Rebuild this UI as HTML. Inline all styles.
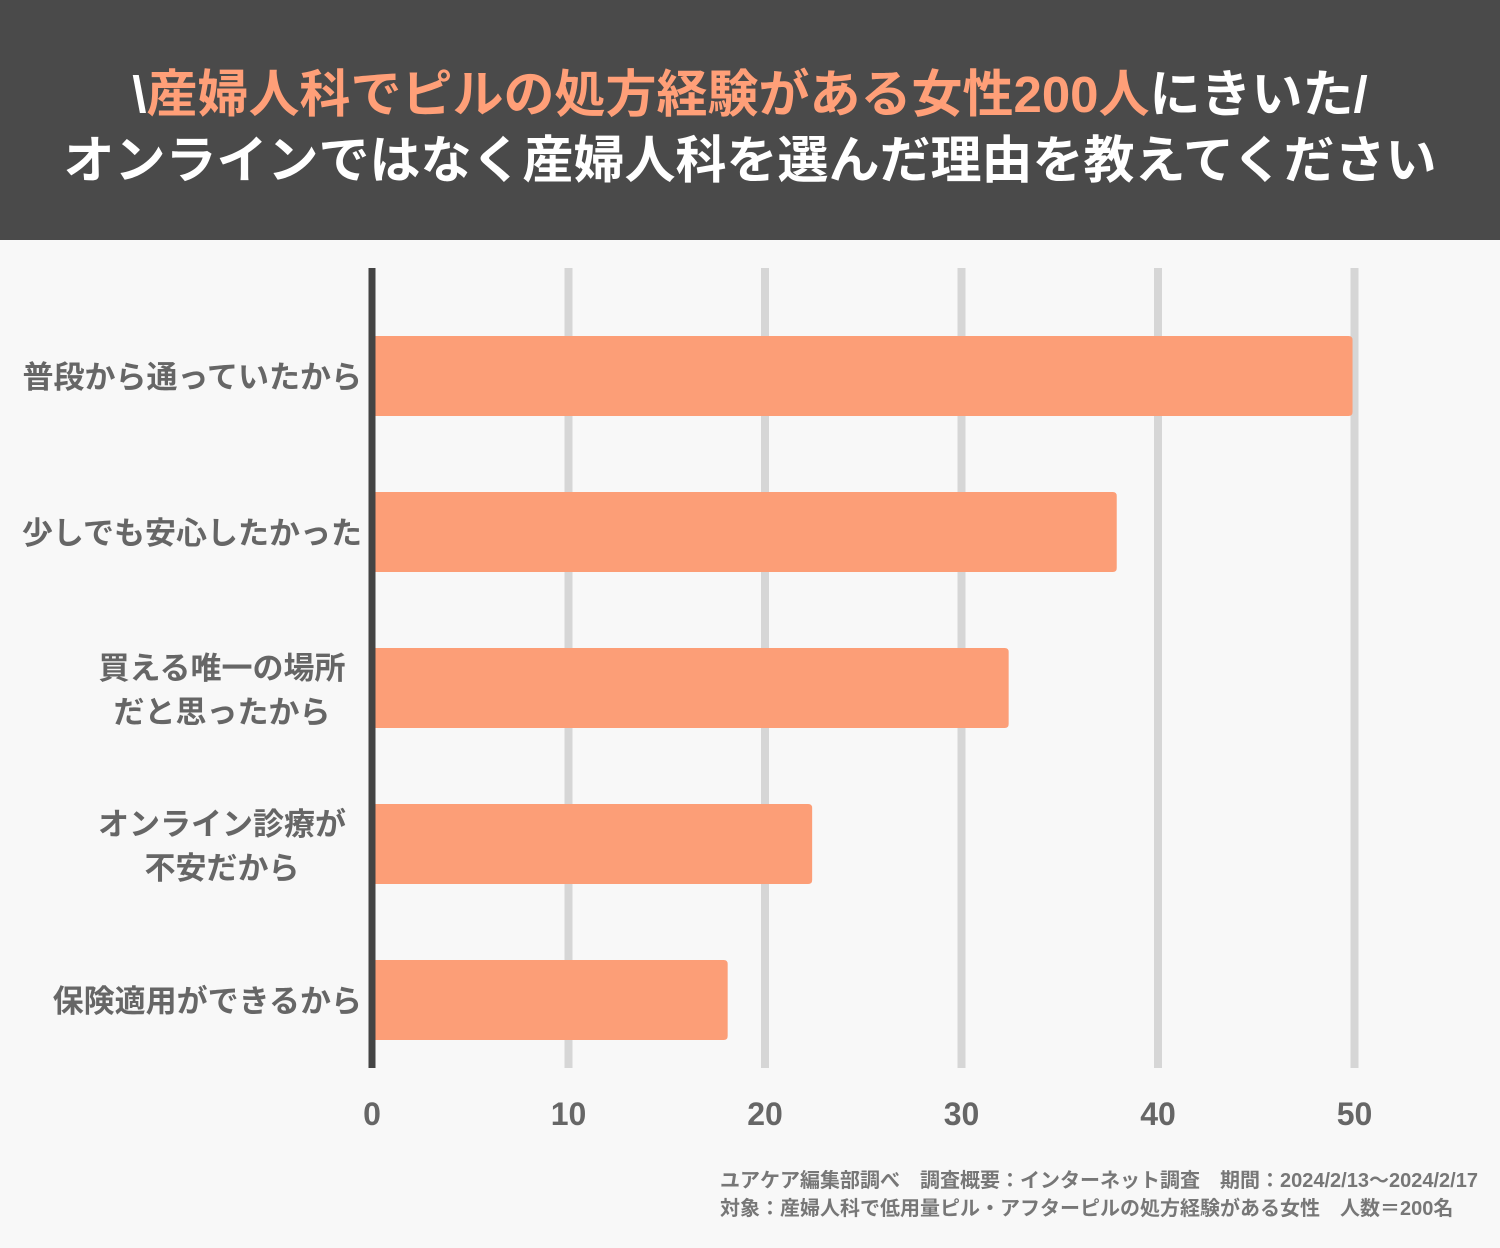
<!DOCTYPE html>
<html><head><meta charset="utf-8">
<style>
body{margin:0;width:1500px;height:1248px;background:#f8f8f8;font-family:"Liberation Sans","Noto Sans CJK JP",sans-serif;overflow:hidden;position:relative}
#hdr{position:absolute;left:0;top:0;width:1500px;height:240px;background:#4a4a4a;color:#fff;font-weight:bold;font-size:51px;text-align:center}
#hdr div{position:absolute;left:0;width:1500px;line-height:64px}
.or{color:#ff9f78}
.foot{position:absolute;left:720px;font-size:20px;font-weight:bold;color:#777;white-space:nowrap}
</style></head><body>
<div id="hdr">
<div style="top:63px">\<span class="or">産婦人科でピルの処方経験がある女性200人</span>にきいた/</div>
<div style="top:129px">オンラインではなく産婦人科を選んだ理由を教えてください</div>
</div>
<svg id="chart" width="1500" height="1248" style="position:absolute;left:0;top:0"></svg>
<div class="foot" style="top:1164px">ユアケア編集部調べ　調査概要：インターネット調査　期間：2024/2/13〜2024/2/17</div>
<div class="foot" style="top:1192px">対象：産婦人科で低用量ピル・アフターピルの処方経験がある女性　人数＝200名</div>
<script>
const categories=[["普段から通っていたから"],["少しでも安心したかった"],["買える唯一の場所","だと思ったから"],["オンライン診療が","不安だから"],["保険適用ができるから"]];
const values=[49.9,37.9,32.4,22.4,18.1];
const ticks=[0,10,20,30,40,50];
const tickLabels=["0","10","20","30","40","50"];
const NS="http://www.w3.org/2000/svg";
const svg=document.getElementById('chart');
const x0=372,ppu=19.65;
function xs(v){return x0+v*ppu;}
function yb(i){return 336+i*156;}
function mk(t,a){const e=document.createElementNS(NS,t);for(const k in a)e.setAttribute(k,a[k]);svg.appendChild(e);return e;}
ticks.forEach((t,i)=>{
 if(i>0){const g=mk('line',{x1:xs(t),x2:xs(t),y1:268,y2:1068,stroke:'#d6d6d6','stroke-width':8});
 
 }
 const l=mk('text',{x:xs(t),y:1125,'text-anchor':'middle','font-size':32,'font-weight':'bold',fill:'#666'});
 l.textContent=tickLabels[i];
 
 
});
values.forEach((v,i)=>{
 const r=mk('path',{fill:'#fc9e77',d:`M${x0} ${yb(i)} H${xs(v)-4} Q${xs(v)} ${yb(i)} ${xs(v)} ${yb(i)+4} V${yb(i)+76} Q${xs(v)} ${yb(i)+80} ${xs(v)-4} ${yb(i)+80} H${x0} Z`});
 
 
 const lines=categories[i];
 lines.forEach((s,j)=>{
  const two=lines.length>1;
  const t=mk('text',{x:two?222:362,y:two?yb(i)+31+j*44:yb(i)+52,'text-anchor':two?'middle':'end','font-size':31,'font-weight':'bold',fill:'#666'});
  t.textContent=s;
  
  
 });
});
const ax=mk('line',{x1:x0,x2:x0,y1:268,y2:1068,stroke:'#444','stroke-width':7});


</script>
</body></html>
